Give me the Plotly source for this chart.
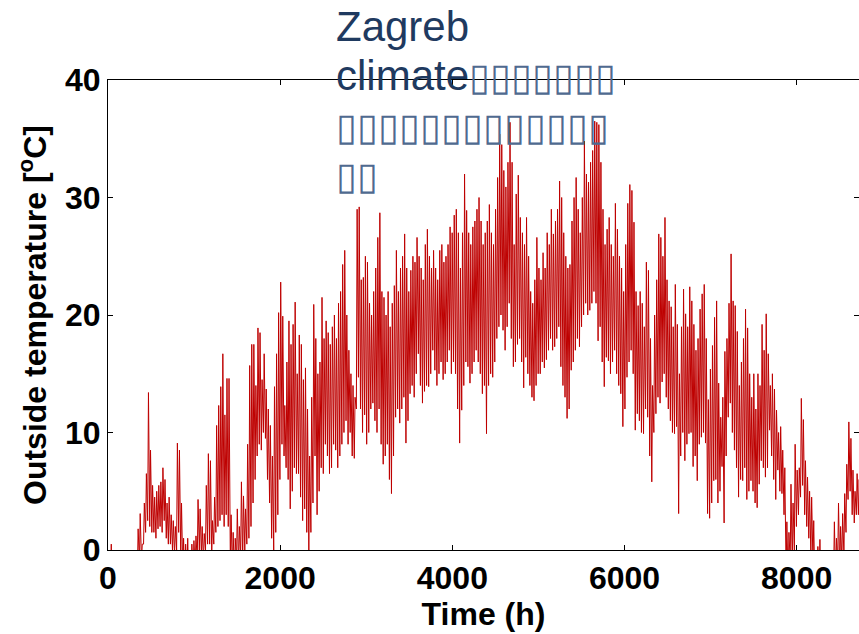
import plotly.graph_objects as go

# Daily maximum / minimum outside temperature in Zagreb (deg C), day 0 = 1 January
day_max = [
    -1, 0.5, -2, -1, -3, -2, -1, -2, -3, -1,
    -2, -1, -0.5, -1, 1.8, 3.1, 0.5, 4, 6.5, 13.4,
    8.5, 5.5, 4.5, 5.0, 5.5, 5.8, 7.0, 6.0, 4.0, 4.5,
    3.0, 2.5, 2.0, 9.1, 8.5, 4.0, 1.0, 0.5, 1.0, -0.5,
    0.5, 0.8, 1.2, 4.3, 3.5, 2.0, 1.4, 5.5, 8.2, 7.6,
    2.5, 4.5, 10.6, 12.3, 13.9, 16.7, 11.5, 14.6, 14.6, 3.0,
    1.5, 1.0, 3.5, 2.0, 5.8, 4.6, 3.5, 9.0, 15.7, 17.5,
    17.5, 14.0, 18.9, 18.5, 14.5, 16.7, 13.7, 12, 10.6, 8,
    13.9, 16.7, 20.2, 22.8, 19.9, 12.3, 16, 19.5, 17.5, 19.2,
    21.1, 15, 18.3, 17.5, 14.5, 15.5, 12, 8, 13, 20.9,
    18, 15, 16, 21.5, 18, 19.5, 18.5, 17.5, 19, 20,
    18, 21, 22, 24.3, 25.5, 20, 17, 15, 14, 13,
    29.0, 29.2, 23, 23.2, 25, 24.5, 21, 20, 22, 24,
    26.6, 28.7, 22, 21.5, 20, 22, 19, 21, 22.5, 25.5,
    22, 24, 25, 26.9, 24, 22, 23.8, 25, 24.5, 26.6,
    25, 24, 23, 26, 27.3, 25, 24, 25.5, 24, 23,
    25.5, 26, 24.5, 25, 26, 27.5, 27, 28.5, 29, 27,
    24, 27, 32, 28.9, 27, 26, 27.5, 28, 29, 30,
    28, 26, 27, 28, 29.4, 27, 26, 29, 31.7, 35.4,
    34.5, 32.3, 30.9, 33, 36.4, 33, 26, 30.3, 31.9, 28.3,
    27, 26, 28.3, 25, 22, 21, 23, 26.6, 24, 23,
    25.3, 24, 27, 26, 29, 26.9, 28, 29, 31.4, 30,
    27, 25, 24, 24.3, 28, 30, 31.7, 29, 27, 30,
    34.8, 32, 31.3, 33, 34, 36.5, 36.4, 36.2, 33, 29,
    26, 27.3, 28.3, 26, 25, 29.5, 27.3, 25, 24, 22,
    26, 29.5, 31.1, 30.6, 27.9, 22, 20.8, 22, 21, 19,
    24.5, 23.8, 18, 14, 20, 23, 26.9, 26.6, 25, 28.3,
    23, 21.2, 20.7, 19, 22.6, 19.2, 15, 19, 22.2, 20.1,
    19, 22.4, 21.2, 19.2, 17, 18, 20.5, 21.8, 22.6, 18,
    12.8, 15.4, 17.4, 19.8, 21.2, 14.2, 11.3, 13, 16.9, 18,
    21, 25.2, 21.2, 20.8, 18.6, 14, 16, 18, 20.5, 18.9,
    15, 13, 15, 12, 15, 14, 19.2, 17, 20.1, 16.7,
    14, 15, 13.7, 11.9, 10, 10.5, 8.5, 7, 2.4, 1.5,
    5.6, 4, 9, 6.8, 7, 12.9, 11.1, 7.6, 6.2, 5,
    4.5, 2.5, -0.5, 0.3, 0.9, -1, -2, -1, -3, -2,
    -1, 2.4, 1, 4, 2, 3.1, 4.8, 7.3, 10.9, 9.5,
    6.8, 5, 6.5, 6, 5,
]

day_min = [
    -5, -4, -6, -5, -7, -6, -4, -5, -8, -5,
    -6, -4, -3, -4, -2, -1, -1, 0.5, 1.5, 2.5,
    2, 1.5, 1.5, 1.0, 1.8, 2.0, 1.5, 2.5, 1.0, 0.5,
    0.5, 0.0, -0.5, 0.0, 1.5, -0.5, -2, -3, -2, -4,
    -3, -2, -1.5, -1, 0, -0.5, -1, 0, 0.5, 0.5,
    -0.5, 0.5, 1.5, 2.0, 2.5, 3.0, 2.0, 3.0, 2.0, -1,
    -2, -2.5, -1, -1.5, -0.5, -1.0, 0, 0.5, 1.0, 2.0,
    4.0, 6.0, 8.0, 9.0, 8.5, 10.0, 9.5, 6, 4, 1,
    0.0, 1.5, 3, 6, 9, 8, 7, 6, 3.5, 5,
    7, 6.5, 6.5, 4.5, 2.5, 3.5, 1.5, 0.0, 1.5, 4,
    8, 3, 5, 7, 6.5, 9, 8, 6.5, 7, 9,
    8.5, 7, 8, 9, 10, 11, 9, 10, 8, 7.8,
    12, 14.7, 12, 10, 11.5, 9, 10, 12, 12.5, 11,
    10, 12, 9, 7.3, 8, 9, 6, 4.8, 8, 11.3,
    12, 10.8, 12, 13, 9.1, 11, 13.3, 14, 13, 15,
    16.7, 14, 12.5, 13.5, 14, 13.9, 15, 17, 15.3, 14,
    15, 16, 14.5, 15, 16, 17, 15, 16, 15, 12,
    9.1, 11.9, 14, 16, 15.6, 14.2, 15, 16, 17, 16,
    15, 13.3, 14, 9.9, 14, 15, 14.7, 16, 18, 19,
    20, 18.7, 17, 19, 21, 18, 15.6, 16, 17.5, 18,
    16, 13.8, 16.4, 15, 14, 13, 12.7, 14, 15, 15,
    16, 15.5, 16.2, 17, 18, 17, 17.3, 18, 19, 15.6,
    14, 13, 11.2, 12, 15.3, 16, 17, 18, 17.3, 19,
    20, 21, 20, 20.4, 21, 22, 21, 17.8, 19, 16,
    13.9, 16.4, 16.1, 15, 16, 17, 15, 14, 13.3, 10.5,
    12, 14.7, 16, 17, 15, 10.2, 11.6, 11, 10, 9.9,
    12, 11.3, 8, 5.8, 10, 11.6, 13, 12.5, 14.3, 15,
    13, 12, 11, 10, 9.9, 10.5, 3.1, 8, 10, 7.6,
    9, 9.9, 10, 7.1, 8, 5.9, 9, 9.6, 10, 9.1,
    3.1, 2.7, 4, 5.9, 6, 4, 5, 7.1, 2.3, 8,
    11.3, 12.5, 10, 8.5, 7, 4.5, 6, 5.9, 7, 4.3,
    5, 5.9, 5, 4, 3.6, 5.6, 7.6, 7, 6.2, 7,
    10.2, 8, 6, 4.3, 6.8, 5, 4.8, 3, -2, -3,
    -1, -1.5, 0, 2, 3, 4.5, 5.5, 3, 2, 1,
    -0.5, -1, -4, -3, -3, -5, -6, -5, -8, -6,
    -4, -2, -3, -1, -2, -1, -0.5, 1.5, 4.3, 5,
    3, 2.3, 3, 3, 2,
]

# Hour of day at which the daily minimum / maximum occur
HOUR_MIN = 5
HOUR_MAX = 14

x_ticks = [0, 2000, 4000, 6000, 8000]
y_ticks = [0, 10, 20, 30, 40]

BOX = "\u25af"
title_words = ["Zagreb", "climate"]
title_boxes = [7, 13, 2]

# hourly time axis built from the daily extremes
hours, temps = [], []
for d, (lo, hi) in enumerate(zip(day_min, day_max)):
    hours += [24 * d + HOUR_MIN, 24 * d + HOUR_MAX]
    temps += [lo, hi]

FONT = "Liberation Sans, Arial, Helvetica, sans-serif"


def word(t):
    return f"<span style='font-size:42px'>{t}</span>"


def boxes(n):
    return f"<span style='color:#4F6A90'>{BOX * n}</span>"


title_text = "<br>".join([
    word(title_words[0]),
    word(title_words[1]) + boxes(title_boxes[0]),
    boxes(title_boxes[1]),
    boxes(title_boxes[2]),
])

fig = go.Figure()
fig.add_trace(go.Scatter(
    x=hours, y=temps, mode="lines",
    line=dict(color="#BE0000", width=1),
    showlegend=False, hoverinfo="skip",
))
# empty trace carrying the right-hand tick marks
fig.add_trace(go.Scatter(x=[], y=[], yaxis="y2", showlegend=False))

axis_font = dict(family=FONT, size=32, color="black", weight="bold")

fig.update_layout(
    width=859, height=634,
    margin=dict(l=108, r=0, t=80, b=84),
    paper_bgcolor="white", plot_bgcolor="white",
    xaxis=dict(
        range=[0, 8724], tickvals=x_ticks, ticks="inside", ticklen=5,
        tickcolor="black", showline=True, linecolor="black", linewidth=1,
        mirror="ticks", showgrid=False, zeroline=False,
        tickfont=axis_font,
        title=dict(text="Time (h)", font=axis_font, standoff=4),
    ),
    yaxis=dict(
        range=[0, 40], tickvals=y_ticks, ticks="inside", ticklen=5,
        tickcolor="black", showline=True, linecolor="black", linewidth=1,
        showgrid=False, zeroline=False, tickfont=axis_font,
        title=dict(text="Outside temperature [<sup>o</sup>C]", font=axis_font,
                   standoff=8),
    ),
    yaxis2=dict(
        overlaying="y", side="right", range=[0, 40], tickvals=y_ticks,
        ticks="inside", ticklen=5, tickcolor="black", showticklabels=False,
        showline=False, showgrid=False, zeroline=False,
    ),
    annotations=[dict(
        text=title_text, xref="paper", yref="paper",
        x=0.3005, y=1.168, xanchor="left", yanchor="top", align="left",
        showarrow=False,
        font=dict(family=FONT, size=38, color="#1F3A60"),
    )],
)

fig.write_html("out.html")
